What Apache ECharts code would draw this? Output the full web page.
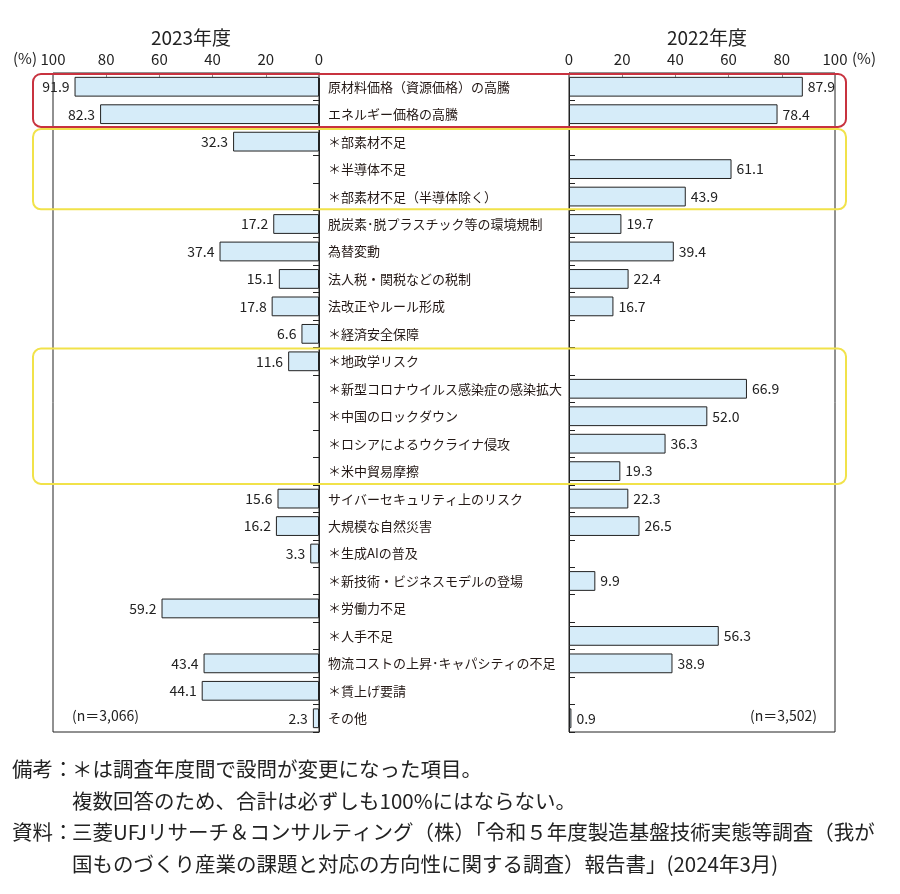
<!DOCTYPE html>
<html>
<head>
<meta charset="utf-8">
<script src="https://cdn.jsdelivr.net/npm/echarts@6/dist/echarts.min.js"></script>
<style>
  html, body { margin: 0; padding: 0; background: #fff; }
  #main { width: 900px; height: 894px; }
</style>
</head>
<body>
<div id="main"></div>
<script>
var FONT = '"Noto Sans CJK JP", "Noto Sans", sans-serif';

// categories, top to bottom
var categories = [
  '原材料価格（資源価格）の高騰',
  'エネルギー価格の高騰',
  '＊部素材不足',
  '＊半導体不足',
  '＊部素材不足（半導体除く）',
  '脱炭素･脱プラスチック等の環境規制',
  '為替変動',
  '法人税・関税などの税制',
  '法改正やルール形成',
  '＊経済安全保障',
  '＊地政学リスク',
  '＊新型コロナウイルス感染症の感染拡大',
  '＊中国のロックダウン',
  '＊ロシアによるウクライナ侵攻',
  '＊米中貿易摩擦',
  'サイバーセキュリティ上のリスク',
  '大規模な自然災害',
  '＊生成AIの普及',
  '＊新技術・ビジネスモデルの登場',
  '＊労働力不足',
  '＊人手不足',
  '物流コストの上昇･キャパシティの不足',
  '＊賃上げ要請',
  'その他'
];

// '-' = not asked that year
var values2023 = [91.9, 82.3, 32.3, '-', '-', 17.2, 37.4, 15.1, 17.8, 6.6, 11.6, '-', '-', '-', '-', 15.6, 16.2, 3.3, '-', 59.2, '-', 43.4, 44.1, 2.3];
var values2022 = [87.9, 78.4, '-', 61.1, 43.9, 19.7, 39.4, 22.4, 16.7, '-', '-', 66.9, 52.0, 36.3, 19.3, 22.3, 26.5, '-', 9.9, '-', 56.3, 38.9, '-', 0.9];

var titles = ['2023年度', '2022年度'];
var sampleSizes = ['(n＝3,066)', '(n＝3,502)'];

// highlighted groups (category index ranges)
var boxFrom = [0, 2, 10];
var boxTo = [1, 4, 14];
var boxColors = ['#c8323f', '#f1e24a'];

var notes = [
  ['備考：', '＊は調査年度間で設問が変更になった項目。'],
  ['', '複数回答のため、合計は必ずしも100%にはならない。'],
  ['資料：', '三菱UFJリサーチ＆コンサルティング（株）「令和５年度製造基盤技術実態等調査（我が'],
  ['', '国ものづくり産業の課題と対応の方向性に関する調査）報告書」(2024年3月)']
];

var chart = echarts.init(document.getElementById('main'));

var barStyle = { color: '#d6ecf9', borderColor: '#222', borderWidth: 1 };
var labelStyle = {
  show: true, fontFamily: FONT, fontSize: 14, color: '#222', distance: 5,
  formatter: function (p) { return Number(p.value).toFixed(1); }
};

function valueAxis(grid, inverse) {
  return {
    type: 'value', gridIndex: grid, position: 'top', min: 0, max: 100, interval: 20,
    inverse: inverse,
    axisLine: { show: false },
    axisTick: { show: true, inside: true, length: 5, lineStyle: { color: '#888' } },
    axisLabel: { fontFamily: FONT, fontSize: 15, color: '#222', margin: 6 },
    splitLine: { show: false }
  };
}

function catAxis(grid, pos, withLabels) {
  return {
    type: 'category', gridIndex: grid, data: categories, inverse: true, position: pos,
    axisLine: { show: true, lineStyle: { color: '#222', width: 1 } },
    axisTick: { show: true, inside: true, length: 6, lineStyle: { color: '#222' } },
    axisLabel: withLabels ? { show: true, align: 'left', margin: 9, fontFamily: FONT, fontSize: 13, color: '#231815' } : { show: false }
  };
}

var titleStyle = { fontFamily: FONT, fontSize: 19, fontWeight: 'normal', color: '#222' };

var option = {
  backgroundColor: '#fff',
  animation: false,
  grid: [
    { left: 53, right: 581, top: 73, bottom: 162, show: true, borderColor: '#222', borderWidth: 1 },
    { left: 569, right: 65, top: 73, bottom: 162, show: true, borderColor: '#222', borderWidth: 1 }
  ],
  xAxis: [valueAxis(0, true), valueAxis(1, false)],
  yAxis: [catAxis(0, 'right', true), catAxis(1, 'left', false)],
  title: [
    { text: titles[0], left: 186, top: 23, textAlign: 'center', textStyle: titleStyle },
    { text: titles[1], left: 702, top: 23, textAlign: 'center', textStyle: titleStyle }
  ],
  series: [
    {
      type: 'bar', xAxisIndex: 0, yAxisIndex: 0, data: values2023, barWidth: '72%',
      itemStyle: barStyle, label: Object.assign({ position: 'left' }, labelStyle)
    },
    {
      type: 'bar', xAxisIndex: 1, yAxisIndex: 1, data: values2022, barWidth: '72%',
      itemStyle: barStyle, label: Object.assign({ position: 'right' }, labelStyle)
    }
  ]
};

chart.setOption(option);

// boxes around highlighted groups, n labels, unit labels and notes
var y0 = chart.convertToPixel({ yAxisIndex: 0 }, 0);
var band = chart.convertToPixel({ yAxisIndex: 0 }, 1) - y0;
var graphics = [];
boxFrom.forEach(function (f, i) {
  var top = y0 - band / 2 + f * band;
  var h = (boxTo[i] - f + 1) * band;
  graphics.push({
    type: 'rect', z: 100,
    shape: { x: 33, y: top + 1, width: 813, height: h - 2, r: 8 },
    style: { fill: 'none', stroke: i === 0 ? boxColors[0] : boxColors[1], lineWidth: 2 }
  });
});
var lastY = y0 + (categories.length - 1) * band;
graphics.push({ type: 'text', left: 72, top: lastY - 10, style: { text: sampleSizes[0], font: '14px ' + FONT, fill: '#222' } });
graphics.push({ type: 'text', left: 750, top: lastY - 10, style: { text: sampleSizes[1], font: '14px ' + FONT, fill: '#222' } });
graphics.push({ type: 'text', left: 13, top: 51, style: { text: '(%)', font: '15px ' + FONT, fill: '#222' } });
graphics.push({ type: 'text', left: 852, top: 51, style: { text: '(%)', font: '15px ' + FONT, fill: '#222' } });
notes.forEach(function (n, i) {
  var ty = 759 + i * 31.7;
  if (n[0]) graphics.push({ type: 'text', left: 12, top: ty, style: { text: n[0], font: '20.5px ' + FONT, fill: '#222' } });
  graphics.push({ type: 'text', left: 72, top: ty, style: { text: n[1], font: '20.5px ' + FONT, fill: '#222' } });
});
chart.setOption({ graphic: graphics });
</script>
</body>
</html>
